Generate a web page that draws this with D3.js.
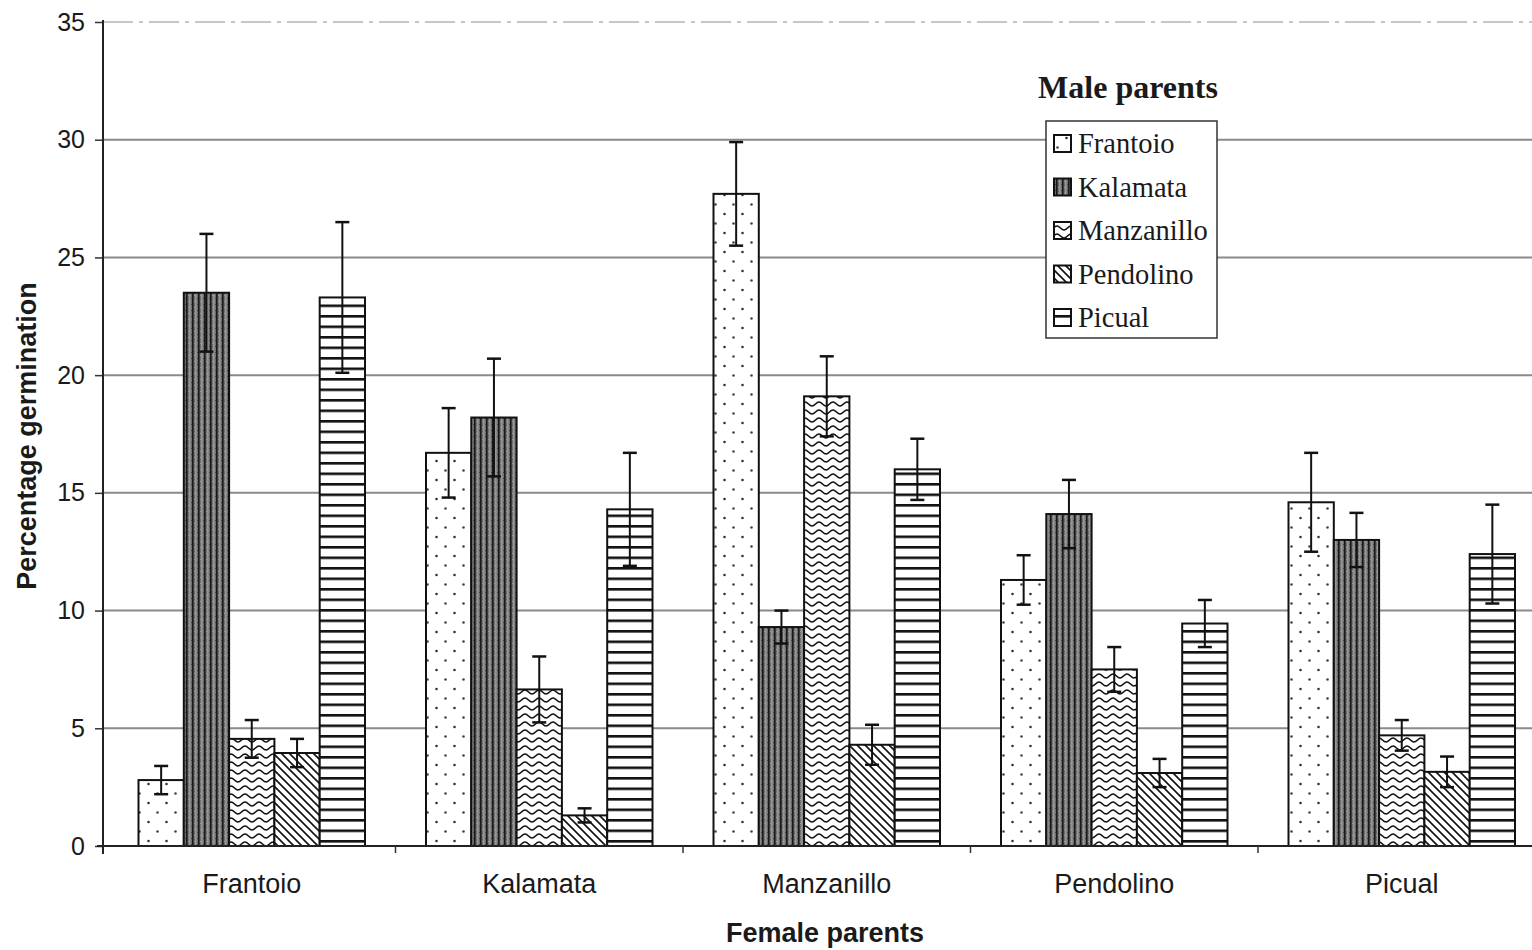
<!DOCTYPE html>
<html>
<head>
<meta charset="utf-8">
<script src="https://cdn.jsdelivr.net/npm/d3@7"></script>
<style>
  html, body { margin: 0; padding: 0; background: #fff; }
  svg { display: block; }
  .sans { font-family: "Liberation Sans", Arial, sans-serif; fill: #1a1a1a; }
  .serif { font-family: "Liberation Serif", "Times New Roman", serif; fill: #1a1a1a; }
</style>
</head>
<body>
<svg id="chart" width="1532" height="950"></svg>
<script>
// Female parents (groups on the x axis)
const femaleParents = ["Frantoio", "Kalamata", "Manzanillo", "Pendolino", "Picual"];
// Male parents (bars within each group / legend entries)
const maleParents = ["Frantoio", "Kalamata", "Manzanillo", "Pendolino", "Picual"];

// Percentage germination by male parent, one value per female parent
const maleFrantoio   = [2.8, 16.7, 27.7, 11.3, 14.6];
const maleKalamata   = [23.5, 18.2, 9.3, 14.1, 13.0];
const maleManzanillo = [4.55, 6.65, 19.1, 7.5, 4.7];
const malePendolino  = [3.95, 1.3, 4.3, 3.1, 3.15];
const malePicual     = [23.3, 14.3, 16.0, 9.45, 12.4];

// Standard errors (same layout)
const errFrantoio   = [0.6, 1.9, 2.2, 1.05, 2.1];
const errKalamata   = [2.5, 2.5, 0.7, 1.45, 1.15];
const errManzanillo = [0.8, 1.4, 1.7, 0.95, 0.65];
const errPendolino  = [0.6, 0.3, 0.85, 0.6, 0.65];
const errPicual     = [3.2, 2.4, 1.3, 1.0, 2.1];

const yTicks = [0, 5, 10, 15, 20, 25, 30, 35];

const seriesValues = [maleFrantoio, maleKalamata, maleManzanillo, malePendolino, malePicual];
const seriesErrors = [errFrantoio, errKalamata, errManzanillo, errPendolino, errPicual];

const rows = [];
femaleParents.forEach((f, gi) => {
  maleParents.forEach((m, si) => {
    rows.push({ female: f, male: m, si, value: seriesValues[si][gi], err: seriesErrors[si][gi] });
  });
});

const svg = d3.select("#chart");
const axisX = 103, baseY = 846, topY = 22;

const y = d3.scaleLinear().domain([0, 35]).range([baseY, topY]);
const x0 = d3.scaleBand().domain(femaleParents).range([108, 1545.5]).padding(0);
const x1 = d3.scaleBand().domain(maleParents)
  .range([30.5, x0.bandwidth() - 30.5]).padding(0);

// ---- hatch patterns ----
const defs = svg.append("defs");

// dotted (Frantoio)
const pDot = defs.append("pattern").attr("id", "pat0").attr("patternUnits", "userSpaceOnUse")
  .attr("width", 18).attr("height", 19);
pDot.append("rect").attr("width", 18).attr("height", 19).attr("fill", "#fff");
pDot.append("circle").attr("cx", 4.5).attr("cy", 5).attr("r", 1.3).attr("fill", "#333");
pDot.append("circle").attr("cx", 13.5).attr("cy", 14.5).attr("r", 1.3).attr("fill", "#444");

// dark vertical stripes (Kalamata)
const pDark = defs.append("pattern").attr("id", "pat1").attr("patternUnits", "userSpaceOnUse")
  .attr("width", 6).attr("height", 6);
pDark.append("rect").attr("width", 6).attr("height", 6).attr("fill", "#6e6e6e");
pDark.append("rect").attr("x", 0).attr("width", 1.6).attr("height", 6).attr("fill", "#1a1a1a");
pDark.append("rect").attr("x", 3.4).attr("width", 1).attr("height", 6).attr("fill", "#b0b0b0");
pDark.append("rect").attr("x", 2).attr("y", 1).attr("width", 1).attr("height", 1).attr("fill", "#999");
pDark.append("rect").attr("x", 5).attr("y", 4).attr("width", 1).attr("height", 1).attr("fill", "#444");

// wavy (Manzanillo)
const pWave = defs.append("pattern").attr("id", "pat2").attr("patternUnits", "userSpaceOnUse")
  .attr("width", 14).attr("height", 8);
pWave.append("rect").attr("width", 14).attr("height", 8).attr("fill", "#fff");
pWave.append("path").attr("d", "M0,6 C3,6 4,2 7,2 C10,2 11,6 14,6")
  .attr("fill", "none").attr("stroke", "#111").attr("stroke-width", 1.5);

// diagonal (Pendolino)
const pDiag = defs.append("pattern").attr("id", "pat3").attr("patternUnits", "userSpaceOnUse")
  .attr("width", 8).attr("height", 8);
pDiag.append("rect").attr("width", 8).attr("height", 8).attr("fill", "#fff");
pDiag.append("path").attr("d", "M-2,-2 L10,10 M-2,6 L2,10 M6,-2 L10,2")
  .attr("stroke", "#111").attr("stroke-width", 1.6);

// horizontal lines (Picual)
const pHor = defs.append("pattern").attr("id", "pat4").attr("patternUnits", "userSpaceOnUse")
  .attr("width", 10).attr("height", 10.5);
pHor.append("rect").attr("width", 10).attr("height", 10.5).attr("fill", "#fff");
pHor.append("rect").attr("y", 0).attr("width", 10).attr("height", 2.6).attr("fill", "#111");

// ---- gridlines ----
svg.append("g").selectAll("line").data(yTicks.filter(t => t > 0 && t < 35)).join("line")
  .attr("x1", axisX).attr("x2", 1532)
  .attr("y1", d => y(d)).attr("y2", d => y(d))
  .attr("stroke", "#8a8a8a").attr("stroke-width", 2);
svg.append("line")
  .attr("x1", axisX).attr("x2", 1532).attr("y1", y(35)).attr("y2", y(35))
  .attr("stroke", "#b5b5b5").attr("stroke-width", 1.5).attr("stroke-dasharray", "30,6,4,6");

// ---- bars ----
const gBars = svg.append("g");
gBars.selectAll("rect").data(rows).join("rect")
  .attr("x", d => x0(d.female) + x1(d.male))
  .attr("y", d => y(d.value))
  .attr("width", x1.bandwidth())
  .attr("height", d => y(0) - y(d.value))
  .attr("fill", d => `url(#pat${d.si})`)
  .attr("stroke", "#111").attr("stroke-width", 2);

// ---- error bars ----
const gErr = svg.append("g").attr("stroke", "#111").attr("stroke-width", 2);
rows.forEach(d => {
  const cx = x0(d.female) + x1(d.male) + x1.bandwidth() / 2;
  gErr.append("line").attr("x1", cx).attr("x2", cx)
    .attr("y1", y(d.value + d.err)).attr("y2", y(d.value - d.err));
  [d.value + d.err, d.value - d.err].forEach(v => {
    gErr.append("line").attr("x1", cx - 7).attr("x2", cx + 7)
      .attr("y1", y(v)).attr("y2", y(v)).attr("stroke-width", 2.5);
  });
});

// ---- axes ----
const yAxis = d3.axisLeft(y).tickValues(yTicks).tickSize(8).tickPadding(10);
const gy = svg.append("g").attr("transform", `translate(${axisX},0)`).call(yAxis);
gy.select(".domain").remove();
gy.selectAll(".tick line").attr("stroke", "#333").attr("stroke-width", 1.5);
gy.selectAll(".tick text").attr("class", "sans").style("font-size", "25px");
svg.append("line").attr("x1", axisX).attr("x2", axisX).attr("y1", topY - 2).attr("y2", baseY + 8)
  .attr("stroke", "#222").attr("stroke-width", 2);

const xAxis = d3.axisBottom(x0).tickSize(0).tickPadding(28);
const gx = svg.append("g").attr("transform", `translate(0,${baseY})`).call(xAxis);
gx.select(".domain").remove();
gx.selectAll(".tick text").attr("class", "sans").style("font-size", "27px");
svg.append("line").attr("x1", axisX - 6).attr("x2", 1532).attr("y1", baseY).attr("y2", baseY)
  .attr("stroke", "#222").attr("stroke-width", 2);
// group separators
svg.append("g").selectAll("line").data(femaleParents.slice(1)).join("line")
  .attr("x1", d => x0(d)).attr("x2", d => x0(d))
  .attr("y1", baseY).attr("y2", baseY + 7)
  .attr("stroke", "#333").attr("stroke-width", 1.5);

// ---- axis titles ----
svg.append("text").attr("class", "sans")
  .attr("x", 825).attr("y", 942).attr("text-anchor", "middle")
  .style("font-size", "27px").style("font-weight", "bold").text("Female parents");
svg.append("text").attr("class", "sans")
  .attr("transform", "translate(36,436) rotate(-90)").attr("text-anchor", "middle")
  .style("font-size", "27px").style("font-weight", "bold").text("Percentage germination");

// ---- legend ----
svg.append("text").attr("class", "serif")
  .attr("x", 1128).attr("y", 98).attr("text-anchor", "middle")
  .style("font-size", "32px").style("font-weight", "bold").text("Male parents");
svg.append("rect").attr("x", 1046).attr("y", 121).attr("width", 171).attr("height", 217)
  .attr("fill", "#fff").attr("stroke", "#333").attr("stroke-width", 1.5);
const legendRow = d3.scalePoint().domain(maleParents).range([144, 318]);
const gLeg = svg.append("g");
maleParents.forEach((m, i) => {
  const cy = legendRow(m);
  gLeg.append("rect").attr("x", 1054).attr("y", cy - 9).attr("width", 17).attr("height", 17)
    .attr("fill", `url(#pat${i})`).attr("stroke", "#111").attr("stroke-width", 2);
  gLeg.append("text").attr("class", "serif")
    .attr("x", 1078).attr("y", cy + 9)
    .style("font-size", "28.5px").text(m);
});
</script>
</body>
</html>
